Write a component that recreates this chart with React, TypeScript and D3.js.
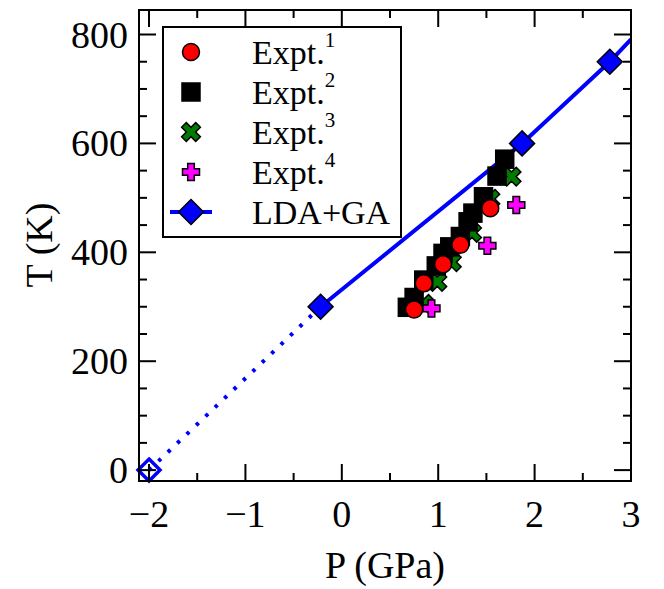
import React from "react";
import * as d3 from "d3";

// Experimental data sets (P in GPa, T in K)
const expt1P = [0.75, 0.85, 1.05, 1.23, 1.54];
const expt1T = [295, 343, 378, 414, 481];

const expt2P = [0.68, 0.75, 0.85, 0.98, 1.05, 1.12, 1.23, 1.31, 1.36, 1.47, 1.61, 1.69];
const expt2T = [299, 317, 349, 375, 398, 410, 429, 456, 472, 502, 540, 571];

const expt3P = [0.85, 0.99, 1.14, 1.35, 1.54, 1.76];
const expt3T = [305, 346, 382, 436, 498, 539];

const expt4P = [0.93, 1.51, 1.81];
const expt4T = [297, 412, 487];

// LDA+GA theory
const ldaP = [-0.22, 1.87, 2.78];
const ldaT = [300, 600, 750];
const ldaLineP = [-0.22, 1.87, 2.78, 3.0];
const ldaLineT = [300, 600, 750, 791];
const ldaExtrapP = [-2.0, -0.22];
const ldaExtrapT = [0, 300];

const xMajor = [-2, -1, 0, 1, 2, 3];
const xMinor = [-1.5, -0.5, 0.5, 1.5, 2.5];
const yMajor = [0, 200, 400, 600, 800];
const yMinor = [50, 100, 150, 250, 300, 350, 450, 500, 550, 650, 700, 750];

const legendLabels = ["Expt.", "Expt.", "Expt.", "Expt.", "LDA+GA"];
const legendSups = ["1", "2", "3", "4", ""];

const FONT = "'Liberation Serif', 'Times New Roman', serif";
const BLUE = "#0000ff";
const GREEN = "#007a00";
const MAGENTA = "#ff00ff";
const RED = "#ff0000";

const L = 139, R = 631, T = 10, B = 481;

function plusPath(s: number, w: number) {
  return `M${-w},${-s}L${w},${-s}L${w},${-w}L${s},${-w}L${s},${w}L${w},${w}L${w},${s}L${-w},${s}L${-w},${w}L${-s},${w}L${-s},${-w}L${-w},${-w}Z`;
}

function Marker({ kind, x, y }: { kind: string; x: number; y: number }) {
  const sw = 1.5;
  if (kind === "circle")
    return <circle cx={x} cy={y} r={8.5} fill={RED} stroke="#000" strokeWidth={sw} />;
  if (kind === "square")
    return <rect x={x - 9} y={y - 9} width={18} height={18} fill="#000" stroke="#000" strokeWidth={sw} />;
  if (kind === "x")
    return (
      <path d={plusPath(10, 3.3)} transform={`translate(${x},${y}) rotate(45)`} fill={GREEN} stroke="#000" strokeWidth={sw} />
    );
  if (kind === "plus")
    return <path d={plusPath(8.5, 3.3)} transform={`translate(${x},${y})`} fill={MAGENTA} stroke="#000" strokeWidth={sw} />;
  if (kind === "diamond")
    return (
      <path d="M0,-12.5L12.5,0L0,12.5L-12.5,0Z" transform={`translate(${x},${y})`} fill={BLUE} stroke="#000" strokeWidth={sw} />
    );
  return null;
}

export default function App() {
  const x = d3.scaleLinear().domain([-2.104, 3]).range([L, R]);
  const y = d3.scaleLinear().domain([-20, 845]).range([B, T]);

  const line = d3
    .line<number>()
    .x((_, i) => x(ldaLineP[i]))
    .y((_, i) => y(ldaLineT[i]));
  const extrap = d3
    .line<number>()
    .x((_, i) => x(ldaExtrapP[i]))
    .y((_, i) => y(ldaExtrapT[i]));

  const legendKinds = ["circle", "square", "x", "plus", "diamond"];

  return (
    <svg width={664} height={589} style={{ position: "absolute", left: 0, top: 0, background: "#fff" }}>
      <defs>
        <clipPath id="plotclip">
          <rect x={L} y={T} width={R - L} height={B - T} />
        </clipPath>
      </defs>
      <rect x={0} y={0} width={664} height={589} fill="#fff" />

      {/* theory line */}
      <g clipPath="url(#plotclip)">
        <path d={extrap(ldaExtrapP) || ""} fill="none" stroke={BLUE} strokeWidth={4} strokeDasharray="3.5 9.5" />
        <path d={line(ldaLineP) || ""} fill="none" stroke={BLUE} strokeWidth={4} />
      </g>

      {/* hollow diamond at P=-2 */}
      <path
        d="M0,-11L11,0L0,11L-11,0Z"
        transform={`translate(${x(-2)},${y(0)})`}
        fill="none"
        stroke={BLUE}
        strokeWidth={3.5}
      />

      {/* experiments */}
      {expt3P.map((p, i) => <Marker key={"x" + i} kind="x" x={x(p)} y={y(expt3T[i])} />)}
      {expt2P.map((p, i) => <Marker key={"s" + i} kind="square" x={x(p)} y={y(expt2T[i])} />)}
      {expt4P.map((p, i) => <Marker key={"p" + i} kind="plus" x={x(p)} y={y(expt4T[i])} />)}
      {expt1P.map((p, i) => <Marker key={"c" + i} kind="circle" x={x(p)} y={y(expt1T[i])} />)}
      {ldaP.map((p, i) => <Marker key={"d" + i} kind="diamond" x={x(p)} y={y(ldaT[i])} />)}

      {/* frame */}
      <rect x={L} y={T} width={R - L} height={B - T} fill="none" stroke="#000" strokeWidth={2} />

      {/* ticks */}
      <g stroke="#000" strokeWidth={2}>
        {xMajor.map((v) => (
          <g key={"xM" + v}>
            <line x1={x(v)} x2={x(v)} y1={B} y2={B - 17} />
            <line x1={x(v)} x2={x(v)} y1={T} y2={T + 17} />
          </g>
        ))}
        {xMinor.map((v) => (
          <g key={"xm" + v}>
            <line x1={x(v)} x2={x(v)} y1={B} y2={B - 8} />
            <line x1={x(v)} x2={x(v)} y1={T} y2={T + 8} />
          </g>
        ))}
        {yMajor.map((v) => (
          <g key={"yM" + v}>
            <line x1={L} x2={L + 17} y1={y(v)} y2={y(v)} />
            <line x1={R} x2={R - 17} y1={y(v)} y2={y(v)} />
          </g>
        ))}
        {yMinor.map((v) => (
          <g key={"ym" + v}>
            <line x1={L} x2={L + 8} y1={y(v)} y2={y(v)} />
            <line x1={R} x2={R - 8} y1={y(v)} y2={y(v)} />
          </g>
        ))}
      </g>

      {/* tick labels */}
      <g fontFamily={FONT} fontSize={38} fill="#000">
        {xMajor.map((v) => (
          <text key={"xl" + v} x={x(v)} y={527} textAnchor="middle">
            {v < 0 ? "\u2212" + Math.abs(v) : String(v)}
          </text>
        ))}
        {yMajor.map((v) => (
          <text key={"yl" + v} x={128} y={y(v)} textAnchor="end" dominantBaseline="central">
            {v}
          </text>
        ))}
        <text x={385} y={578} textAnchor="middle">P (GPa)</text>
        <text transform={`translate(52,245) rotate(-90)`} textAnchor="middle">T (K)</text>
      </g>

      {/* legend */}
      <rect x={163} y={27} width={238} height={210} fill="#fff" stroke="#000" strokeWidth={2} />
      {legendKinds.map((k, i) => {
        const ly = 52 + i * 40;
        return (
          <g key={"lg" + i}>
            {k === "diamond" && <line x1={170} x2={212} y1={ly} y2={ly} stroke={BLUE} strokeWidth={4} />}
            <Marker kind={k} x={191} y={ly} />
            <text x={252} y={ly + 12} fontFamily={FONT} fontSize={34} fill="#000">
              {legendLabels[i]}
              {legendSups[i] && (
                <tspan fontSize={21} dy={-17}>
                  {legendSups[i]}
                </tspan>
              )}
            </text>
          </g>
        );
      })}
    </svg>
  );
}
